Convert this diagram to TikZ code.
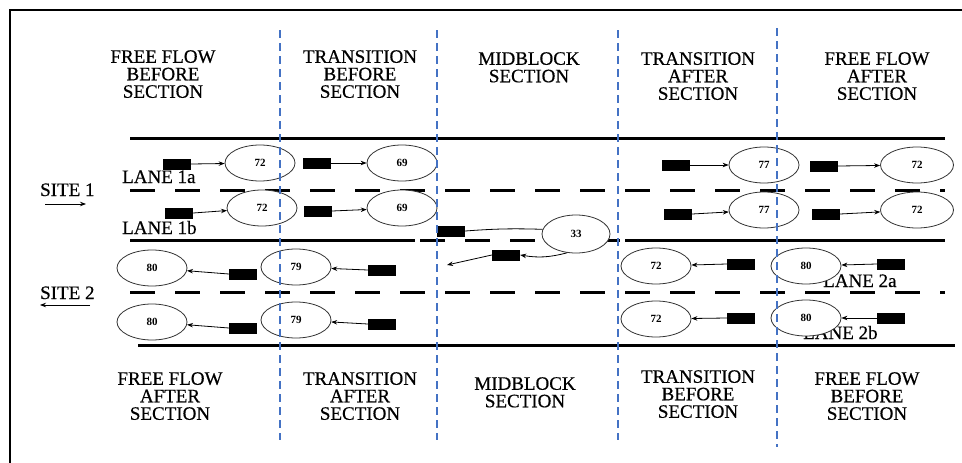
\documentclass[tikz,border=0pt]{standalone}
\usepackage{fontspec}
\setmainfont{Liberation Serif}
\newfontfamily\heavyserif[FakeBold=0.5]{Liberation Serif}
\usetikzlibrary{shapes.geometric,arrows.meta}
\definecolor{sepblue}{RGB}{68,114,196}
\tikzset{
  hdr/.style={font=\heavyserif\fontsize{19}{17.5}\selectfont, align=center, inner sep=0pt, anchor=north},
  lbl/.style={font=\heavyserif\fontsize{19}{17.5}\selectfont, inner sep=0pt, anchor=base west},
  spd/.style={ellipse, draw=black!80, line width=0.8pt, fill=white, minimum width=70pt, minimum height=36pt, inner sep=0pt, font=\fontsize{11}{12}\selectfont\bfseries},
  car/.style={rectangle, fill=black, minimum width=28pt, minimum height=11pt, inner sep=0pt},
  arr/.style={-{Stealth[length=6pt,width=4.5pt]}, line width=0.8pt},
  road/.style={line width=3pt},
  lanedash/.style={line width=3pt, dash pattern=on 25pt off 20pt},
  sep/.style={sepblue, line width=2pt, dash pattern=on 8pt off 5pt}
}
\begin{document}
\begin{tikzpicture}[x=1pt,y=-1pt]
\useasboundingbox (0,0) rectangle (962,463);
% frame
\draw[line width=2pt] (10,463) -- (10,10) -- (962,10);

% headers top
\node[hdr] (h1) at (163,50) {FREE FLOW\\BEFORE\\SECTION};
\node[hdr] (h2) at (360,50) {TRANSITION\\BEFORE\\SECTION};
\node[hdr] (h3) at (529,52) {MIDBLOCK\\SECTION};
\node[hdr] (h4) at (698,52) {TRANSITION\\AFTER\\SECTION};
\node[hdr] (h5) at (877,52) {FREE FLOW\\AFTER\\SECTION};
% headers bottom
\node[hdr] (b1) at (170,372) {FREE FLOW\\AFTER\\SECTION};
\node[hdr] (b2) at (360,372) {TRANSITION\\AFTER\\SECTION};
\node[hdr] (b3) at (525,377) {MIDBLOCK\\SECTION};
\node[hdr] (b4) at (698,370) {TRANSITION\\BEFORE\\SECTION};
\node[hdr] (b5) at (867,372) {FREE FLOW\\BEFORE\\SECTION};

% road lines
\draw[road] (130,138) -- (945,138);
\draw[lanedash] (130,190) -- (945,190);
\draw[road] (130,240) -- (415,240);
\draw[lanedash] (420,240) -- (620,240);
\draw[road] (625,240) -- (945,240);
\draw[lanedash] (130,292) -- (945,292);
\draw[road] (138,345) -- (955,345);

% labels
\node[lbl] (l1a) at (122,183) {LANE 1a};
\node[lbl] (l1b) at (122,234) {LANE 1b};
\node[lbl] (l2a) at (823,287) {LANE 2a};
\node[lbl] (l2b) at (803,339) {LANE 2b};
\node[lbl] (s1) at (40,196) {SITE 1};
\node[lbl] (s2) at (40,299) {SITE 2};
\coordinate (s1a) at (45,204);
\coordinate (s1b) at (86,204);
\coordinate (s2a) at (90,305);
\coordinate (s2b) at (40,305);
\draw[arr] (s1a) -- (s1b);
\draw[arr] (s2a) -- (s2b);

% lane 1a
\node[car] (r11) at (177,164) {};
\node[spd] (e11) at (260,163) {72};
\node[car] (r12) at (317,163) {};
\node[spd] (e12) at (402,163) {69};
\node[car] (r13) at (676,165) {};
\node[spd] (e13) at (764,165) {77};
\node[car] (r14) at (824,166) {};
\node[spd, minimum width=73pt] (e14) at (917,165) {72};
% lane 1b
\node[car] (r21) at (179,213) {};
\node[spd] (e21) at (262,208) {72};
\node[car] (r22) at (318,211) {};
\node[spd] (e22) at (402,208) {69};
\node[car] (r23) at (678,214) {};
\node[spd] (e23) at (764,210) {77};
\node[car] (r24) at (826,214) {};
\node[spd, minimum width=73pt] (e24) at (917,210) {72};
\foreach \a/\b in {r11/e11,r12/e12,r13/e13,r14/e14,r21/e21,r22/e22,r23/e23,r24/e24}
  \draw[arr] (\a.east) -- (\b);

% lane 2a
\node[spd] (e31) at (152,268) {80};
\node[car] (r31) at (243,274) {};
\node[spd] (e32) at (296,267) {79};
\node[car] (r32) at (382,270) {};
\node[spd] (e33) at (656,266) {72};
\node[car] (r33) at (741,264) {};
\node[spd] (e34) at (806,266) {80};
\node[car] (r34) at (891,264) {};
% lane 2b
\node[spd] (e41) at (152,322) {80};
\node[car] (r41) at (243,328) {};
\node[spd] (e42) at (296,320) {79};
\node[car] (r42) at (382,324) {};
\node[spd] (e43) at (656,319) {72};
\node[car] (r43) at (741,318) {};
\node[spd] (e44) at (806,318) {80};
\node[car] (r44) at (891,318) {};
\foreach \a/\b in {r31/e31,r32/e32,r33/e33,r34/e34,r41/e41,r42/e42,r43/e43,r44/e44}
  \draw[arr] (\a.west) -- (\b);

% midblock
\node[car] (r51) at (451,231) {};
\node[spd, minimum width=68pt, minimum height=38pt] (e5) at (576,234) {33};
\node[car] (r52) at (506,255) {};
\coordinate (m1) at (447,265);
\draw[line width=0.8pt] (r51.east) to[bend left=3] (e5.172);
\draw[arr] (e5.245) to[bend left=12] (r52.east);
\draw[arr] (r52.west) -- (m1);

% separators
\draw[sep] (280,30) -- (280,440);
\draw[sep] (437,30) -- (437,440);
\draw[sep] (618,30) -- (618,440);
\draw[sep] (777,28) -- (777,447);
\end{tikzpicture}
\end{document}
